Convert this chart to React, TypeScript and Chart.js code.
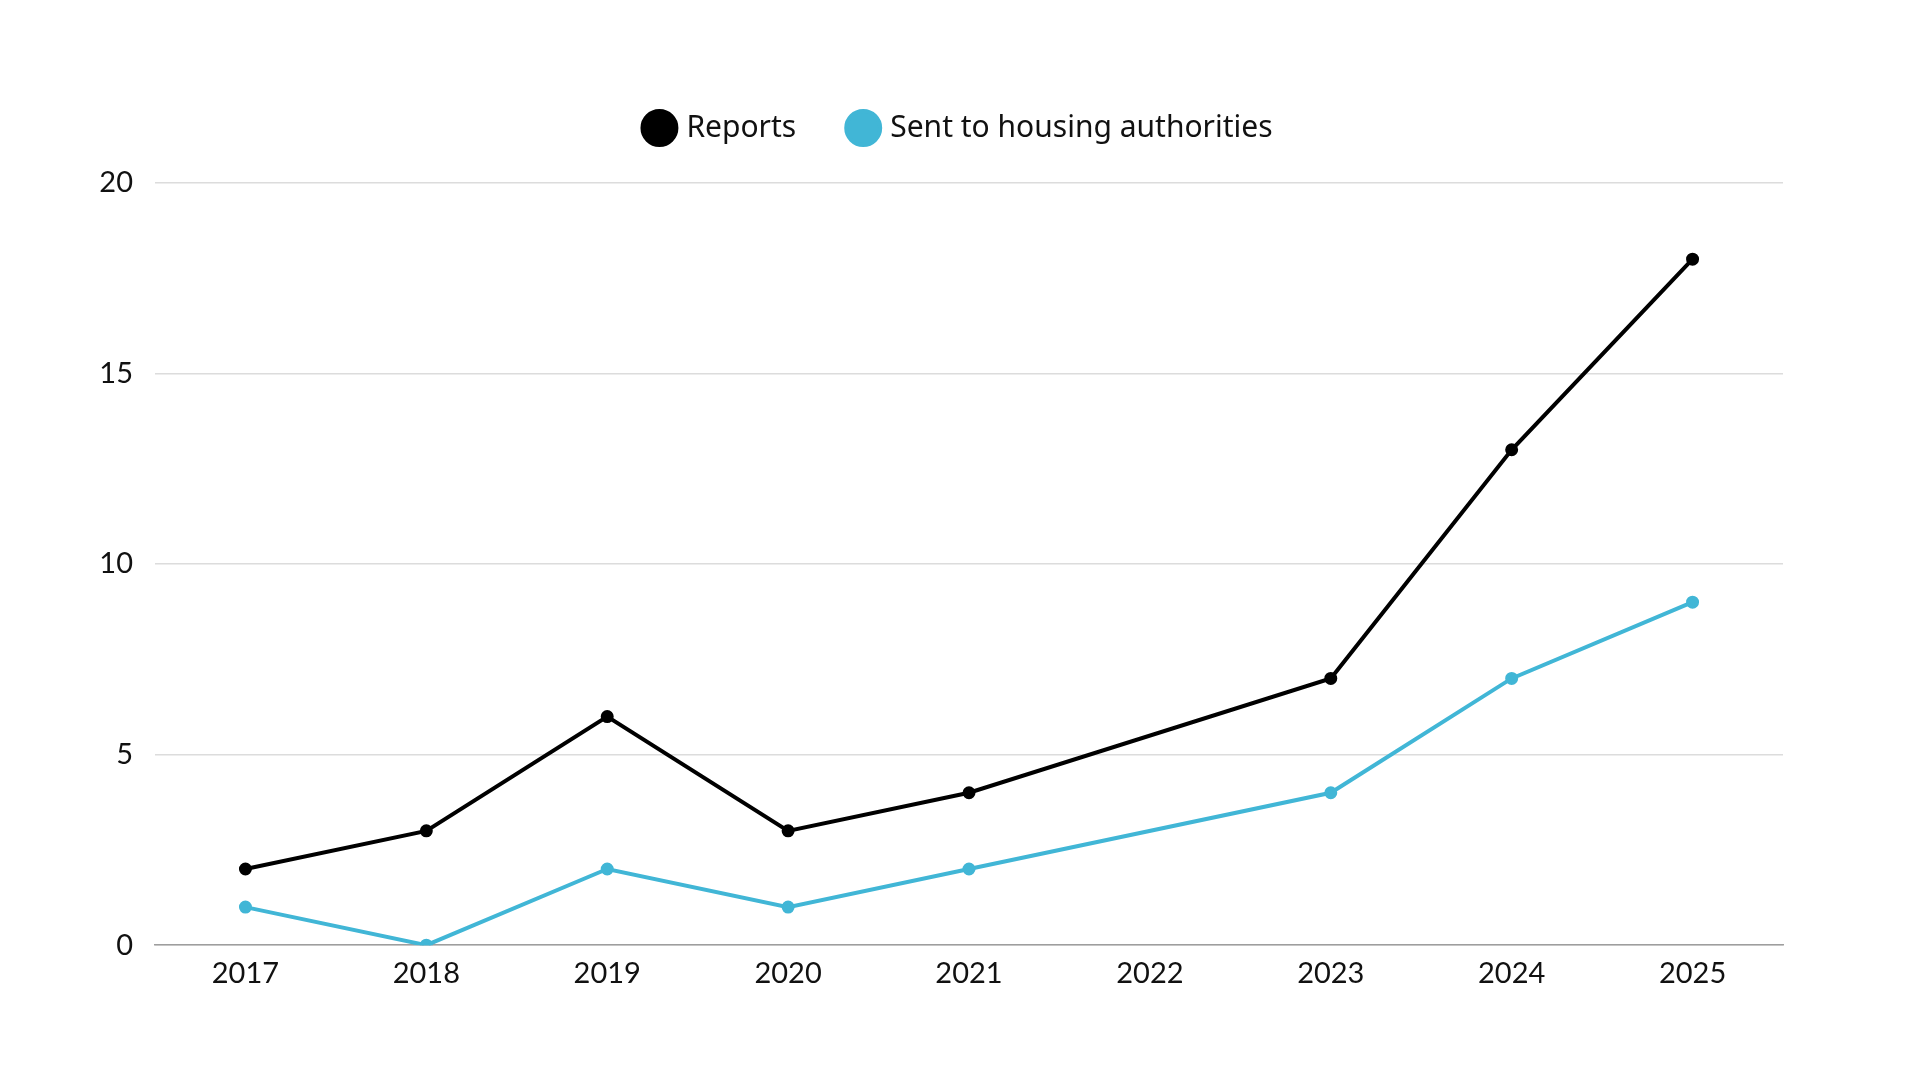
import React, { useEffect, useRef } from "react";
import { Chart, registerables } from "chart.js";

Chart.register(...registerables);

const years = ["2017", "2018", "2019", "2020", "2021", "2022", "2023", "2024", "2025"];
const reports = [2, 3, 6, 3, 4, null, 7, 13, 18];
const sentToHousing = [1, 0, 2, 1, 2, null, 4, 7, 9];
const seriesNames = ["Reports", "Sent to housing authorities"];
const seriesColors = ["#000000", "#41b6d6"];

export default function App() {
  const ref = useRef<HTMLCanvasElement>(null);
  useEffect(() => {
    if (!ref.current) return;
    const legendSpacer = {
      id: "legendSpacer",
      beforeInit(chart: any) {
        const orig = chart.legend.fit;
        chart.legend.fit = function () {
          orig.call(this);
          this.height = 125;
        };
      },
      afterLayout(chart: any) {
        const l = chart.legend;
        if (!l) return;
        l.left = 137;
        l.right = 1920 - 137;
        l.width = l.right - l.left;
        if (l.adjustHitBoxes) l.adjustHitBoxes();
      },
    };
    const chart = new Chart(ref.current, {
      type: "line",
      data: {
        labels: years,
        datasets: [
          {
            label: seriesNames[0],
            data: reports,
            borderColor: seriesColors[0],
            backgroundColor: seriesColors[0],
            borderWidth: 4,
            pointRadius: 4.5,
            pointHoverRadius: 4.5,
            spanGaps: true,
            tension: 0,
          },
          {
            label: seriesNames[1],
            data: sentToHousing,
            borderColor: seriesColors[1],
            backgroundColor: seriesColors[1],
            borderWidth: 4,
            pointRadius: 4.5,
            pointHoverRadius: 4.5,
            spanGaps: true,
            tension: 0,
          },
        ],
      },
      options: {
        animation: false,
        responsive: false,
        maintainAspectRatio: false,
        layout: { padding: { top: 58, right: 137, bottom: 78, left: 0 } },
        plugins: {
          legend: {
            position: "top",
            labels: {
              usePointStyle: true,
              pointStyle: "circle",
              boxWidth: 24,
              boxHeight: 24,
              padding: 55,
              color: "#111",
              font: { family: "'Noto Sans', sans-serif", size: 30 },
            },
          },
          tooltip: { enabled: false },
        },
        scales: {
          x: {
            offset: true,
            grid: { display: false, drawTicks: false },
            border: { display: true, color: "#9e9e9e", width: 1.5 },
            ticks: {
              color: "#111",
              padding: 11,
              font: { family: "Lato, sans-serif", size: 29 },
              maxRotation: 0,
            },
          },
          y: {
            min: 0,
            max: 20,
            afterFit(scale: any) {
              scale.width = 155;
            },
            grid: { color: "#dcdcdc", lineWidth: 1.5, drawTicks: false },
            border: { display: false },
            ticks: {
              stepSize: 5,
              color: "#111",
              padding: 22,
              font: { family: "Lato, sans-serif", size: 29 },
            },
          },
        },
      },
      plugins: [legendSpacer],
    });
    return () => chart.destroy();
  }, []);
  return (
    <div style={{ position: "absolute", left: 0, top: 0, width: 1920, height: 1080, background: "#fff" }}>
      <canvas ref={ref} width={1920} height={1080} style={{ width: 1920, height: 1080 }} />
    </div>
  );
}
